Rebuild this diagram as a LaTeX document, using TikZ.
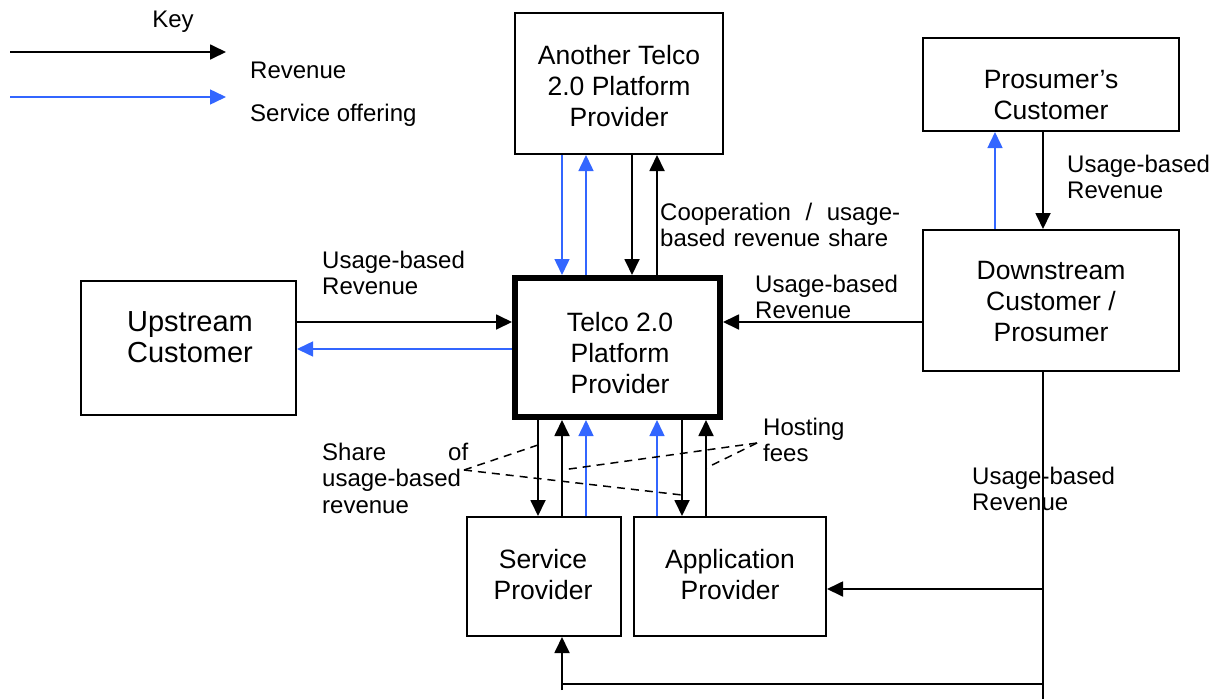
\documentclass[tikz,border=0pt]{standalone}
\usepackage{fontspec}
\setmainfont{Liberation Sans}
\usetikzlibrary{arrows.meta}

\definecolor{offerblue}{RGB}{51,102,255}

\tikzset{
    box/.style      = {draw, line width = 2pt, inner sep = 0pt},
    boxtext/.style  = {align = center, inner sep = 0pt,
                       font = \fontsize{26.5}{31}\selectfont},
    lbl/.style      = {align = left, anchor = west, inner sep = 0pt,
                       font = \fontsize{24}{26.5}\selectfont},
    rev/.style      = {line width = 1.8pt, -{Triangle[width = 15pt, length = 16pt]}},
    offer/.style    = {rev, line width = 1.5pt, draw = offerblue},
    sharing/.style  = {line width = 1.5pt, dash pattern = on 8pt off 6pt}
}

\begin{document}
\begin{tikzpicture}[x = 1pt, y = -1pt]
    \useasboundingbox (0, 0) rectangle (1212, 699);

    % key
    \node [lbl, anchor = center] (keyTitle) at (173, 22) {Key};
    \coordinate (keyRevA) at (10, 52);
    \coordinate (keyRevB) at (226, 52);
    \coordinate (keyOffA) at (10, 97);
    \coordinate (keyOffB) at (226, 97);
    \draw [rev] (keyRevA) -- (keyRevB);
    \draw [offer] (keyOffA) -- (keyOffB);
    \node [lbl] (keyRev) at (250, 70) {Revenue};
    \node [lbl] (keyOff) at (250, 115) {Service offering};

    % boxes
    \node [box, minimum width = 208pt, minimum height = 141pt]
          (tel) at (619, 83.5) {};
    \node [boxtext] (telText) at (619, 86) {Another Telco\\2.0 Platform\\Provider};

    \node [box, minimum width = 256pt, minimum height = 93pt]
          (pc) at (1051, 84.5) {};
    \node [boxtext] (pcText) at (1051, 95) {Prosumer’s\\Customer};

    \node [box, minimum width = 256pt, minimum height = 141pt]
          (down) at (1051, 300.5) {};
    \node [boxtext] (downText) at (1051, 301.5) {Downstream\\Customer /\\Prosumer};

    \node [box, minimum width = 215pt, minimum height = 134pt]
          (up) at (188.5, 348) {};
    \node [boxtext, font = \fontsize{29}{31}\selectfont]
          (upText) at (190, 337.5) {Upstream\\Customer};

    \node [box, line width = 6pt, minimum width = 205pt, minimum height = 139pt]
          (main) at (617.5, 347.5) {};
    \node [boxtext] (mainText) at (620, 353) {Telco 2.0\\Platform\\Provider};

    \node [box, minimum width = 154pt, minimum height = 119pt]
          (sp) at (544, 576.5) {};
    \node [boxtext] (spText) at (543, 575) {Service\\Provider};

    \node [box, minimum width = 192pt, minimum height = 119pt]
          (ap) at (730, 576.5) {};
    \node [boxtext] (apText) at (730, 575) {Application\\Provider};

    % another telco <-> telco 2.0
    \draw [offer] (tel.south -| 562, 0) -- (main.north -| 562, 0);
    \draw [offer] (main.north -| 586, 0) -- (tel.south -| 586, 0);
    \draw [rev] (tel.south -| 632, 0) -- (main.north -| 632, 0);
    \draw [rev] (main.north -| 657, 0) -- (tel.south -| 657, 0);
    \node [lbl, text width = 240pt] (coopLbl) at (660, 225)
          {Cooperation\hfill/\hfill usage-\\based revenue share};

    % upstream <-> telco 2.0
    \draw [rev] (up.east |- 0, 322) -- (main.west |- 0, 322);
    \draw [offer] (main.west |- 0, 349) -- (up.east |- 0, 349);
    \node [lbl] (upLbl) at (322, 273) {Usage-based\\Revenue};

    % downstream -> telco 2.0
    \draw [rev] (down.west |- 0, 322) -- (main.east |- 0, 322);
    \node [lbl] (downLbl) at (755, 297) {Usage-based\\Revenue};

    % prosumer's customer <-> downstream
    \draw [offer] (down.north -| 995, 0) -- (pc.south -| 995, 0);
    \draw [rev] (pc.south -| 1043, 0) -- (down.north -| 1043, 0);
    \node [lbl] (pcLbl) at (1067, 177) {Usage-based\\Revenue};

    % telco 2.0 <-> service / application provider
    \draw [rev] (main.south -| 538, 0) -- (sp.north -| 538, 0);
    \draw [rev] (sp.north -| 562, 0) -- (main.south -| 562, 0);
    \draw [offer] (sp.north -| 586, 0) -- (main.south -| 586, 0);
    \draw [offer] (ap.north -| 657, 0) -- (main.south -| 657, 0);
    \draw [rev] (main.south -| 682, 0) -- (ap.north -| 682, 0);
    \draw [rev] (ap.north -| 706, 0) -- (main.south -| 706, 0);

    \node [lbl, text width = 146pt] (shareLbl) at (322, 478)
          {Share\hfill of\\usage-based\\revenue};
    \node [lbl] (hostLbl) at (763, 440) {Hosting\\fees};
    \coordinate (shareTip) at (464, 470);
    \coordinate (hostTip) at (757, 443);
    \draw [sharing] (shareTip) -- (538, 445);
    \draw [sharing] (shareTip) -- (682, 495);
    \draw [sharing] (hostTip) -- (562, 470);
    \draw [sharing] (hostTip) -- (706, 468);

    % downstream -> providers
    \coordinate (trunkEnd) at (1043, 699);
    \coordinate (spFoot) at (562, 690);
    \draw [line width = 1.8pt] (down.south -| trunkEnd) -- (trunkEnd);
    \draw [rev] (trunkEnd |- 0, 589) -- (ap.east |- 0, 589);
    \draw [line width = 1.8pt] (trunkEnd |- 0, 684) -- (spFoot |- 0, 684);
    \draw [rev] (spFoot) -- (sp.south -| spFoot);
    \node [lbl] (trunkLbl) at (972, 489) {Usage-based\\Revenue};
\end{tikzpicture}
\end{document}
